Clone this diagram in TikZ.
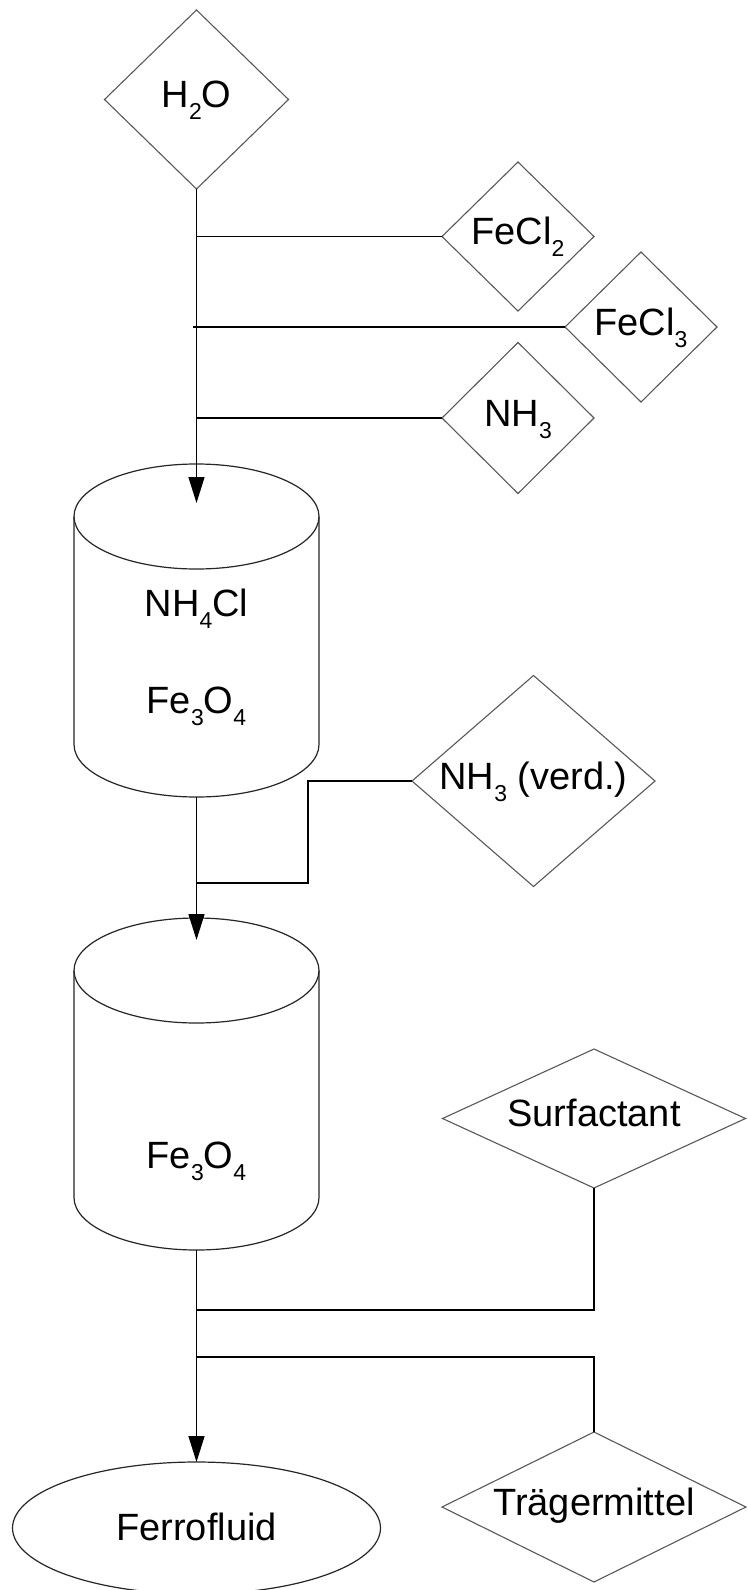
\documentclass[tikz,border=0pt]{standalone}
\usepackage{fontspec}
\setmainfont{Liberation Sans}
\usetikzlibrary{shapes.geometric,arrows.meta,calc}
\newcommand{\chsub}[1]{\raisebox{-12pt}{\fontsize{23}{23}\selectfont #1}}
\newcommand{\drawcyl}[1]{%
  \draw[cylline] ([yshift=-52.5pt]#1.north) ellipse[x radius=122.5pt, y radius=52.5pt];
  \draw[cylline] ([yshift=-52.5pt]#1.north west) -- ([yshift=52.5pt]#1.south west)
     arc[start angle=180, end angle=360, x radius=122.5pt, y radius=52.5pt]
     -- ([yshift=-52.5pt]#1.north east);}
\begin{document}
\begin{tikzpicture}[x=1pt,y=-1pt,
  every node/.style={font=\fontsize{38}{44}\selectfont, inner sep=0pt, outer sep=0pt},
  dia/.style={diamond, draw=black!65, line width=1.1pt, text height=26pt, text depth=10pt},
  conn/.style={line width=1.4pt, black},
  arr/.style={conn, -{Triangle[length=26pt,width=16pt]}},
  cylline/.style={line width=1.2pt, black!85},
  cylbox/.style={rectangle, minimum width=245pt},
  lbl/.style={anchor=base}]

\useasboundingbox[fill=white] (0,0) rectangle (747,1590);

% feed diamonds
\node[dia, minimum width=184pt, minimum height=179pt] (h2o) at (196.5,99.5) {H\chsub{2}O};
\node[dia, minimum width=152pt, minimum height=149pt] (fecl2) at (518,236.5) {FeCl\chsub{2}};
\node[dia, minimum width=152pt, minimum height=150pt] (fecl3) at (641,327) {FeCl\chsub{3}};
\node[dia, minimum width=152pt, minimum height=151pt] (nh3) at (518,418) {NH\chsub{3}};
\node[dia, minimum width=243pt, minimum height=211pt, shape aspect=1.15] (nh3v) at (533.5,781) {NH\chsub{3} (verd.)};
\node[dia, minimum width=303pt, minimum height=139pt, shape aspect=2.18] (surf) at (594,1118.5) {Surfactant};
\node[dia, minimum width=304pt, minimum height=150pt, shape aspect=2.03] (trag) at (594,1507) {Trägermittel};

% vessels
\node[cylbox, minimum height=333pt] (cyl1) at (196.5,630.5) {};
\node[cylbox, minimum height=332pt] (cyl2) at (196.5,1084) {};
\drawcyl{cyl1}
\drawcyl{cyl2}
\node[lbl] (c1a) at (196.5,616) {NH\chsub{4}Cl};
\node[lbl] (c1b) at (196.5,713) {Fe\chsub{3}O\chsub{4}};
\node[lbl] (c2a) at (196.5,1168) {Fe\chsub{3}O\chsub{4}};

% product
\node[ellipse, draw=black!85, line width=1.2pt, minimum width=368pt, minimum height=132pt,
      text height=26pt, text depth=2pt] (ferro) at (196.5,1528) {Ferrofluid};

% connectors
\coordinate (in1) at (196.5,503);
\coordinate (in2) at (196.5,940);
\coordinate (j1) at (196.5,883);
\coordinate (k1) at (308,883);
\coordinate (j2) at (196.5,1310);
\coordinate (j3) at (196.5,1357);

\draw[arr] (h2o.south) -- (in1);
\draw[conn] (fecl2.west) -- (fecl2.west -| h2o.south);
\draw[conn] (fecl3.west) -- ([xshift=-3.5pt]fecl3.west -| h2o.south);
\draw[conn] (nh3.west) -- (nh3.west -| h2o.south);

\draw[arr] (cyl1.south) -- (in2);
\draw[conn] (nh3v.west) -| (k1) -- (j1);

\draw[arr] (cyl2.south) -- (ferro.north);
\draw[conn] (surf.south) |- (j2);
\draw[conn] (trag.north) |- (j3);
\end{tikzpicture}
\end{document}
